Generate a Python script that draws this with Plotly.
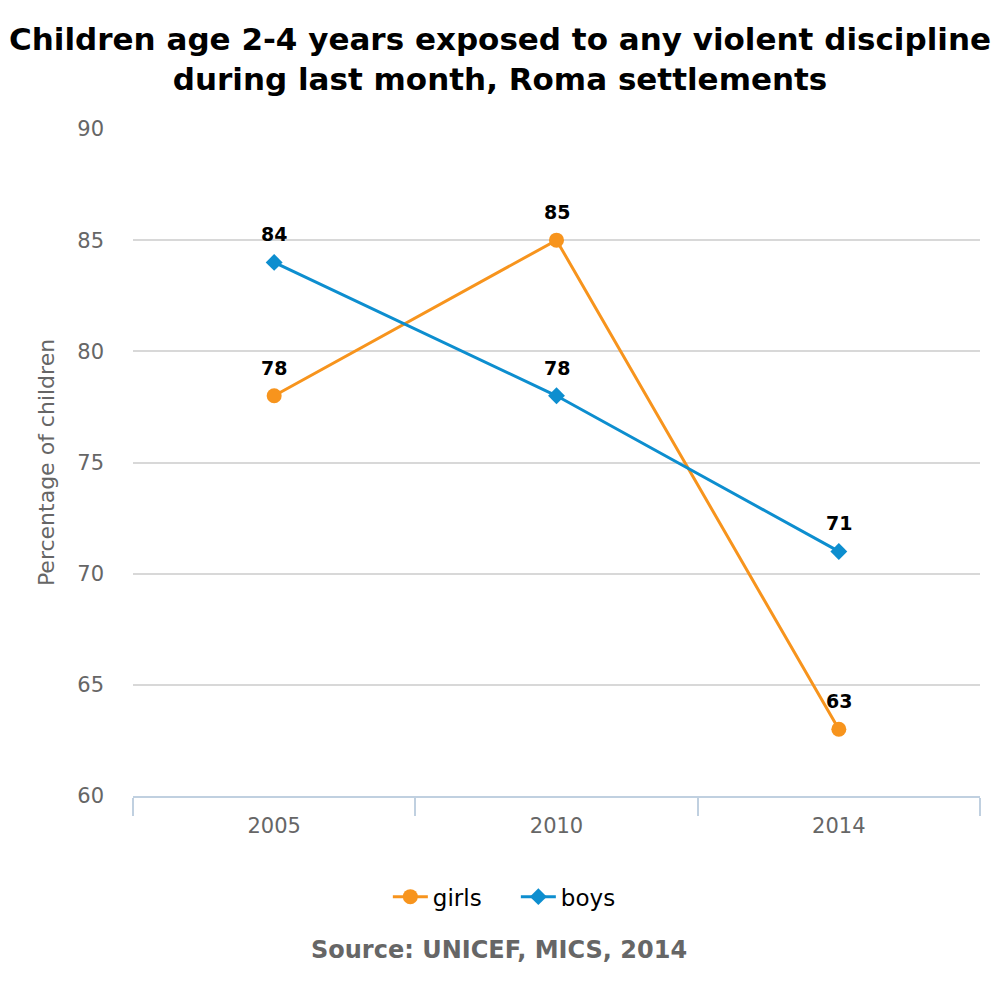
import plotly.graph_objects as go

years = ["2005", "2010", "2014"]
girls = [78, 85, 63]
boys = [84, 78, 71]

ORANGE = "#f7941d"
BLUE = "#0d8ecf"
FONT = "DejaVu Sans"

fig = go.Figure()
fig.add_trace(go.Scatter(x=years, y=girls, name="girls", mode="lines+markers",
                         line=dict(color=ORANGE, width=3),
                         marker=dict(symbol="circle", size=15, color=ORANGE)))
fig.add_trace(go.Scatter(x=years, y=boys, name="boys", mode="lines+markers",
                         line=dict(color=BLUE, width=3),
                         marker=dict(symbol="diamond", size=13, color=BLUE)))

# value labels above each point (x given as category index)
for series in (girls, boys):
    for i, v in enumerate(series):
        fig.add_annotation(x=i, y=v, text=f"<b>{v}</b>", showarrow=False,
                           yshift=28, font=dict(family=FONT, size=19, color="#000000"))

fig.add_annotation(text="<b>Source: UNICEF, MICS, 2014</b>", xref="paper", yref="paper",
                   x=0.432, y=-0.231, showarrow=False, yanchor="middle",
                   font=dict(family=FONT, size=24, color="#666666"))

fig.update_layout(
    width=992, height=992,
    paper_bgcolor="white", plot_bgcolor="white",
    margin=dict(l=125, r=20, t=121, b=204),
    title=dict(text="<b>Children age 2-4 years exposed to any violent discipline<br>during last month, Roma settlements</b>",
               x=0.496, xanchor="center", y=0.958, yanchor="middle",
               font=dict(family=FONT, size=31, color="#000000")),
    legend=dict(orientation="h", x=0.452, xanchor="center", y=-0.151, yanchor="middle",
                entrywidth=78, entrywidthmode="pixels", itemwidth=35,
                font=dict(family=FONT, size=23, color="#000000")),
    showlegend=True,
)
fig.update_xaxes(type="category", range=[-0.5, 2.5], tickson="boundaries",
                 ticks="outside", ticklen=18, tickwidth=2, tickcolor="#c0d0e0",
                 showline=True, linecolor="#c0d0e0", linewidth=2,
                 ticklabelstandoff=10,
                 showgrid=False, tickfont=dict(family=FONT, size=21, color="#666666"))
fig.update_yaxes(range=[60, 90], dtick=5, showgrid=True, gridcolor="#d8d8d8", gridwidth=2,
                 zeroline=False, ticks="", ticklabelstandoff=28,
                 title=dict(text="Percentage of children", standoff=16,
                            font=dict(family=FONT, size=22, color="#666666")),
                 tickfont=dict(family=FONT, size=21, color="#666666"))

fig.write_html("out.html")
